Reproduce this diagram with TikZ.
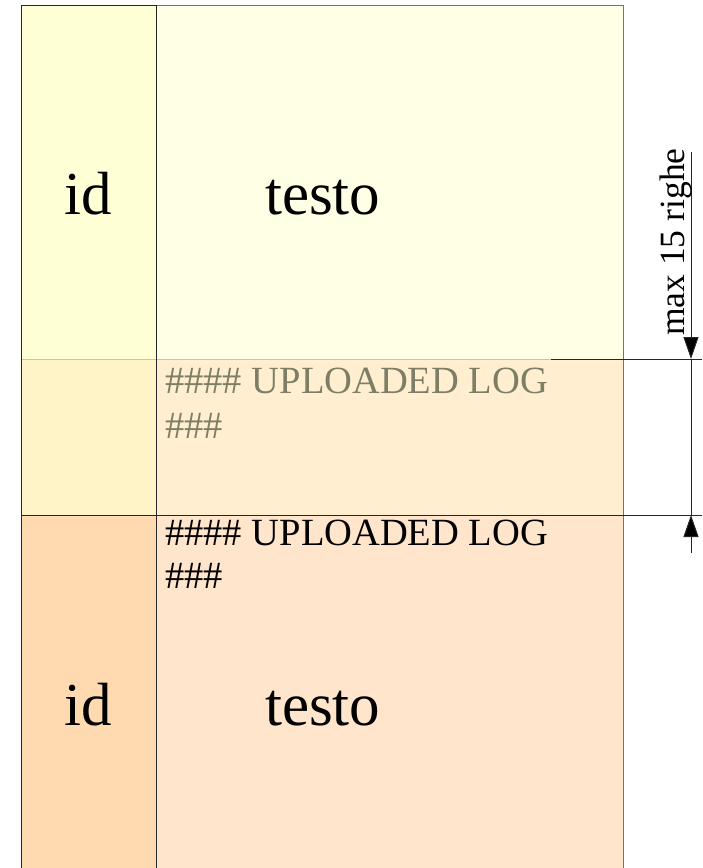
\documentclass[tikz,border=0pt]{standalone}
\usepackage{fontspec}
\setmainfont{Liberation Serif}
\usetikzlibrary{arrows.meta}
\definecolor{tl}{HTML}{FFFFD6}
\definecolor{tr}{HTML}{FFFFE6}
\definecolor{ml}{HTML}{FFF3C8}
\definecolor{mr}{HTML}{FFEFD0}
\definecolor{bl}{HTML}{FFDAB0}
\definecolor{br}{HTML}{FFE5CC}
\definecolor{logtxt}{HTML}{7E7E66}
\definecolor{sepline}{HTML}{C4C8A8}
\begin{document}
\begin{tikzpicture}[x=1pt,y=-1pt,
  bigtxt/.style={font=\fontsize{61}{72}\selectfont, inner sep=0pt},
  logtext/.style={font=\fontsize{38.5}{44}\selectfont, inner sep=0pt, anchor=base west},
  dimline/.style={draw=black!85, line width=1pt},
  dimarrow/.style={dimline, -{Triangle[length=22pt,width=15pt,fill=black]}},
  border/.style={draw=black!85, line width=1pt}]
\useasboundingbox (0,0) rectangle (702,868);
% fills
\fill[tl] (21,5) rectangle (156,359);
\fill[tr] (156,5) rectangle (623,359);
\fill[ml] (21,359) rectangle (156,515);
\fill[mr] (156,359) rectangle (623,515);
\fill[bl] (21,515) rectangle (156,868);
\fill[br] (156,515) rectangle (623,868);
% borders
\draw[sepline, line width=1pt] (21,359) -- (551,359);
\draw[border] (21,868) -- (21,5) -- (156,5);
\draw[draw=black!55, line width=1pt] (156,5) -- (623,5) -- (623,868);
\draw[border] (156,5) -- (156,868);
\draw[border] (21,515) -- (623,515);
% texts
\node[bigtxt, anchor=base] (id1) at (88,214) {id};
\node[bigtxt, anchor=base west] (t1) at (265,214) {testo};
\node[logtext, text=logtxt] (g1) at (165,393) {\#\#\#\# UPLOADED LOG};
\node[logtext, text=logtxt] (g2) at (165,438) {\#\#\#};
\node[logtext] (b1) at (165,545) {\#\#\#\# UPLOADED LOG};
\node[logtext] (b2) at (165,588) {\#\#\#};
\node[bigtxt, anchor=base] (id2) at (88,725) {id};
\node[bigtxt, anchor=base west] (t2) at (265,725) {testo};
% dimension
\coordinate (e1a) at (551,359);
\coordinate (e1b) at (702,359);
\coordinate (e2a) at (551,515);
\coordinate (e2b) at (702,515);
\coordinate (d1s) at (691,152);
\coordinate (d1e) at (691,359);
\coordinate (d2s) at (691,553);
\coordinate (d2e) at (691,515);
\draw[dimline] (e1a) -- (e1b);
\draw[dimline] (e2a) -- (e2b);
\draw[dimline] (d1e) -- (d2e);
\draw[dimarrow] (d1s) -- (d1e);
\draw[dimarrow] (d2s) -- (d2e);
\node[font=\fontsize{35.5}{42}\selectfont, inner sep=0pt, rotate=90, anchor=base west] (lbl) at (684,336) {max 15 righe};
\end{tikzpicture}
\end{document}
